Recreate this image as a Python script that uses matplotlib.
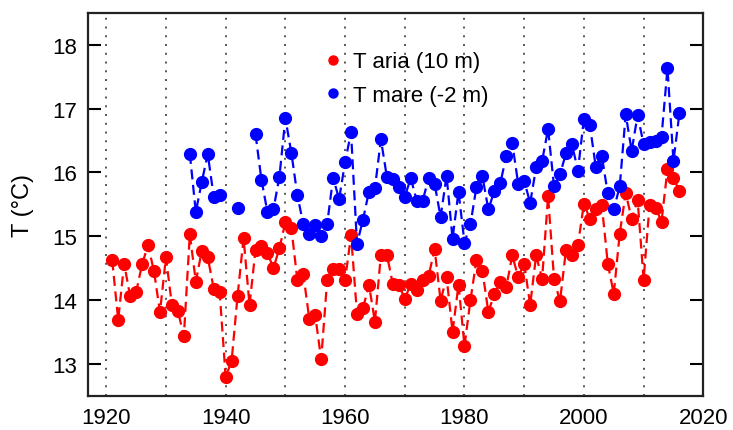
import matplotlib
matplotlib.use("Agg")
import matplotlib.pyplot as plt
import numpy as np

plt.rcParams["font.family"] = ["Liberation Sans", "DejaVu Sans"]

# anni e temperature
anni_aria = np.arange(1921, 2017)
t_aria = [14.62, 13.69, 14.57, 14.06, 14.12, 14.56, 14.86, 14.45, 13.81, 14.67,
          13.92, 13.83, 13.43, 15.03, 14.29, 14.77, 14.67, 14.18, 14.12, 12.79,
          13.05, 14.07, 14.97, 13.92, 14.79, 14.85, 14.74, 14.50, 14.81, 15.22,
          15.13, 14.32, 14.41, 13.71, 13.76, 13.07, 14.31, 14.48, 14.48, 14.31,
          15.02, 13.78, 13.87, 14.24, 13.66, 14.71, 14.71, 14.25, 14.24, 14.02,
          14.25, 14.15, 14.31, 14.38, 14.80, 13.99, 14.36, 13.50, 14.24, 13.28,
          14.00, 14.62, 14.46, 13.81, 14.10, 14.28, 14.20, 14.70, 14.36, 14.57,
          13.92, 14.70, 14.33, 15.63, 14.33, 13.98, 14.79, 14.71, 14.86, 15.51,
          15.27, 15.42, 15.49, 14.57, 14.10, 15.04, 15.68, 15.27, 15.57, 14.32,
          15.49, 15.45, 15.23, 16.05, 15.91, 15.71]

nan = np.nan
anni_mare = np.arange(1934, 2017)
t_mare = [16.29, 15.38, 15.85, 16.29, 15.62, 15.65, nan, nan, 15.44, nan,
          nan, 16.60, 15.88, 15.38, 15.42, 15.93, 16.85, 16.31, 15.65, 15.19,
          15.04, 15.18, 15.00, 15.19, 15.92, 15.58, 16.16, 16.63, 14.88, 15.26,
          15.70, 15.75, 16.52, 15.93, 15.89, 15.77, 15.62, 15.91, 15.56, 15.56,
          15.91, 15.82, 15.30, 15.95, 14.96, 15.70, 14.90, 15.19, 15.77, 15.94,
          15.42, 15.71, 15.83, 16.26, 16.46, 15.82, 15.87, 15.52, 16.08, 16.18,
          16.68, 15.78, 15.97, 16.30, 16.44, 16.03, 16.84, 16.74, 16.08, 16.26,
          15.67, 15.42, 15.78, 16.91, 16.34, 16.90, 16.44, 16.47, 16.50, 16.56,
          17.63, 16.18, 16.93]

decenni = np.arange(1920, 2020, 10)

fig = plt.figure(figsize=(7.33, 4.31), dpi=100)
ax = fig.add_axes([0.1205, 0.0796, 0.839, 0.888])

for d in decenni:
    ax.axvline(d, color="#555555", linestyle=(0, (1, 3.5)), linewidth=1.4, zorder=0)

ax.plot(anni_aria, t_aria, color="red", linestyle=(0, (4.5, 2.5)), linewidth=1.6,
        marker="o", markersize=8.5, label="T aria (10 m)")
ax.plot(anni_mare, t_mare, color="blue", linestyle=(0, (4.5, 2.5)), linewidth=1.6,
        marker="o", markersize=8.5, label="T mare (-2 m)")

ax.set_xlim(1917, 2020)
ax.set_ylim(12.5, 18.5)
ax.set_xticks(np.arange(1920, 2021, 20))
ax.set_yticks(np.arange(13, 19, 1))
ax.tick_params(axis="y", direction="in", length=9.5, width=1.5, left=True, right=True,
               labelsize=16, pad=8)
ax.tick_params(axis="x", length=0, labelsize=16, pad=8)
for s in ax.spines.values():
    s.set_linewidth(1.6)
    s.set_color("#222222")

ax.set_ylabel("T (°C)", fontsize=17)
ax.yaxis.set_label_coords(-0.088, 0.5)

leg = ax.legend(handles=[
    plt.Line2D([], [], color="red", marker="o", linestyle="none", markersize=6.5),
    plt.Line2D([], [], color="blue", marker="o", linestyle="none", markersize=6.5)],
    labels=["T aria (10 m)", "T mare (-2 m)"],
    loc="upper left", bbox_to_anchor=(0.344, 0.952), frameon=False,
    fontsize=16, handletextpad=0.3, labelspacing=0.55, handlelength=1.2)

fig.savefig("out.png", dpi=100)
